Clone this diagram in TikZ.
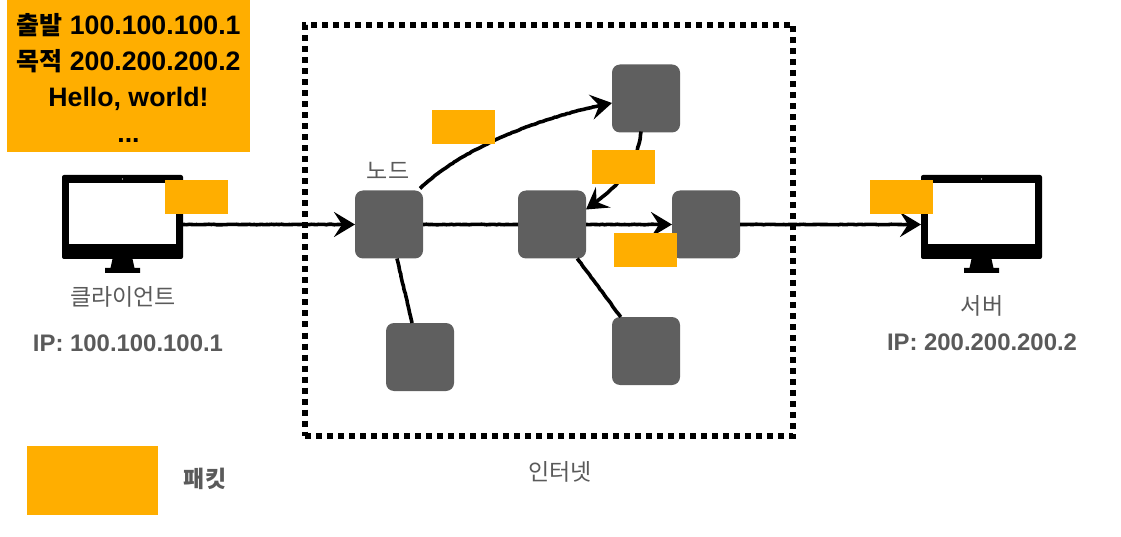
\documentclass[tikz,border=0pt]{standalone}
\usepackage{fontspec}
\setmainfont{Liberation Sans}
\newfontfamily\kr{Noto Sans CJK KR}
\usetikzlibrary{arrows.meta,decorations.pathmorphing}
\definecolor{pkt}{HTML}{FFAE00}
\definecolor{nodegrey}{HTML}{5F5F5F}
\definecolor{txtgrey}{HTML}{5A5A5A}
\tikzset{
  netnode/.style={fill=nodegrey,draw=none,rounded corners=8pt,minimum width=68pt,minimum height=68pt,inner sep=0pt,outer sep=0pt},
  packet/.style={fill=pkt,draw=none,minimum width=63pt,minimum height=34pt,inner sep=0pt},
  link/.style={line width=3.6pt,black,decorate,decoration={random steps,segment length=2.5pt,amplitude=0.25pt,post length=4pt,pre length=1pt}},
  flow/.style={link,-{Stealth[length=21pt,width=25pt,inset=8pt]}},
  monitor/.style={fill=black,draw=none,rounded corners=2pt,minimum width=121pt,minimum height=84pt,inner sep=0pt,outer sep=0pt},
  screen/.style={fill=white,draw=none,minimum width=107pt,minimum height=61pt,inner sep=0pt},
  krlabel/.style={font=\kr\fontsize{23}{27}\selectfont,text=txtgrey,inner sep=0pt},
  iplabel/.style={font=\fontsize{23.9}{28}\selectfont\bfseries,text=txtgrey,inner sep=0pt}
}
\newcommand{\monitorparts}[1]{%
  \node[screen] at ([yshift=3.5pt]#1.center) {};
  \fill[black] ([xshift=-10pt]#1.south) -- ([xshift=10pt]#1.south) -- ([xshift=12pt,yshift=-9pt]#1.south) -- ([xshift=17.5pt,yshift=-9pt]#1.south) -- ([xshift=17.5pt,yshift=-14pt]#1.south) -- ([xshift=-17.5pt,yshift=-14pt]#1.south) -- ([xshift=-17.5pt,yshift=-9pt]#1.south) -- ([xshift=-12pt,yshift=-9pt]#1.south) -- cycle;
  \fill[white] ([yshift=-4pt]#1.north) circle (0.7pt);
}
\begin{document}
\begin{tikzpicture}[x=1pt,y=-1pt]
\useasboundingbox (0,0) rectangle (1121,537);
% internet frame
\node[draw=black,line width=6pt,dash pattern=on 6pt off 5pt,minimum width=488pt,minimum height=410.5pt,inner sep=0pt] (inet) at (549,230.25) {};
% monitors
\node[monitor] (client) at (122.5,217) {};
\monitorparts{client}
\node[monitor] (server) at (981.5,217) {};
\monitorparts{server}
% network nodes
\node[netnode] (a) at (389,224.5) {};
\node[netnode] (b) at (552,224.5) {};
\node[netnode] (c) at (706,224.5) {};
\node[netnode] (d) at (646,98.5) {};
\node[netnode] (e) at (420,357) {};
\node[netnode] (f) at (646,351) {};
% connectors
\draw[flow] (client.east |- a) -- (a.west);
\draw[link] (a) -- (b);
\draw[flow] (b) -- (c);
\draw[flow] (c) -- (server.west |- c);
\draw[link] (a) -- (e);
\draw[link] (b) -- (f);
\draw[flow] (a.north east) ++(-3pt,2pt) coordinate (astart) (astart) .. controls (460,150) and (535,118) .. (d.west |- 0,103);
\draw[flow] (d.south) ++(-5pt,1pt) coordinate (dstart) (dstart) .. controls (637,165) and (622,184) .. ([yshift=15pt]b.east);
% packets
\node[fill=pkt,minimum width=243pt,minimum height=152pt,inner sep=0pt] (bigbox) at (128.5,76) {};
\node[inner sep=0pt,align=center,font=\fontsize{26.7}{35.8}\selectfont\bfseries] (big) at (128.5,78) {{\kr\fontsize{25}{35.8}\selectfont 출발} 100.100.100.1\\{\kr\fontsize{25}{35.8}\selectfont 목적} 200.200.200.2\\Hello, world!\\...};
\node[packet] (p1) at (196.5,197) {};
\node[packet] (p2) at (463.5,127.5) {};
\node[packet] (p3) at (623.5,167.5) {};
\node[packet] (p4) at (645.5,250) {};
\node[packet] (p5) at (901,197) {};
\node[fill=pkt,minimum width=131pt,minimum height=69pt,inner sep=0pt] (legend) at (92.5,480.5) {};
% labels
\node[krlabel] (lclient) at (123,297) {클라이언트};
\node[iplabel] (ipclient) at (128,343) {IP: 100.100.100.1};
\node[krlabel] (lnode) at (388,171) {노드};
\node[krlabel] (lserver) at (982,306) {서버};
\node[iplabel] (ipserver) at (982,342) {IP: 200.200.200.2};
\node[krlabel] (linet) at (560,472) {인터넷};
\node[krlabel,font=\kr\fontsize{23}{27}\selectfont\bfseries] (lpkt) at (205,479) {패킷};
\end{tikzpicture}
\end{document}
